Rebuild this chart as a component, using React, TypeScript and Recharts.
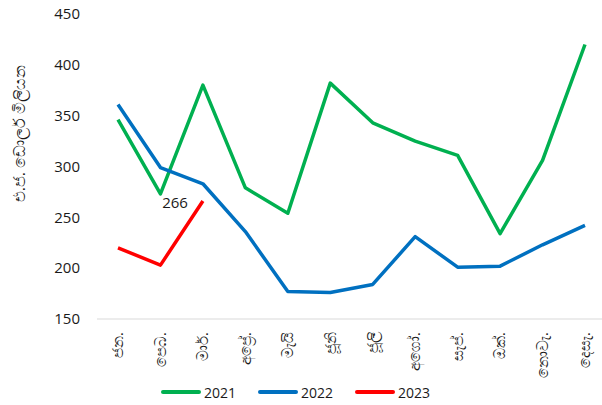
import { LineChart, Line, XAxis, YAxis, Legend, Label } from 'recharts'

const months = ['ජන.', 'පෙබ.', 'මාර්.', 'අප්‍රේ.', 'මැයි', 'ජූනි', 'ජූලි', 'අගෝ.', 'සැප්.', 'ඔක්.', 'නොවැ.', 'දෙසැ.']
const values2021 = [346, 273, 380, 279, 254, 382, 343, 325, 311, 234, 306, 420]
const values2022 = [361, 299, 283, 236, 177, 176, 184, 231, 201, 202, 223, 242]
const values2023 = [220, 203, 266]
const yTicks = [150, 200, 250, 300, 350, 400, 450]
const yLabel = 'එ.ජ. ඩොලර් මිලියන'

const series = [
  { key: 'y2021', name: '2021', color: '#00B050' },
  { key: 'y2022', name: '2022', color: '#0070C0' },
  { key: 'y2023', name: '2023', color: '#FF0000' },
]

const data = months.map((m, i) => ({
  month: m,
  y2021: values2021[i],
  y2022: values2022[i],
  y2023: values2023[i],
}))

const font = "'Open Sans', 'Noto Sans', sans-serif"

function MonthTick({ x, y, payload }: any) {
  return (
    <text
      x={x}
      y={y}
      dy="0.35em"
      transform={`rotate(-90, ${x}, ${y})`}
      textAnchor="end"
      fontSize={15}
      fontFamily={font}
      fill="#1a1a1a"
    >
      {payload.value}
    </text>
  )
}

function YTitle({ viewBox }: any) {
  const x = 19
  const y = viewBox.y + viewBox.height / 2 - 33
  return (
    <text
      x={x}
      y={y}
      dy="0.35em"
      transform={`rotate(-90, ${x}, ${y})`}
      textAnchor="middle"
      fontSize={16}
      fontFamily={font}
      fill="#1a1a1a"
    >
      {yLabel}
    </text>
  )
}

function lastLabel(props: any) {
  if (props.index !== values2023.length - 1) return null
  return (
    <text x={props.x - 15} y={props.y} dy={7} textAnchor="end" fontSize={15} fontFamily={font} fill="#1a1a1a">
      {props.value}
    </text>
  )
}

function LegendBox() {
  return (
    <div style={{ display: 'flex', justifyContent: 'center', alignItems: 'center', height: 26, fontFamily: font, fontSize: 14, color: '#1a1a1a' }}>
      {series.map((s) => (
        <div key={s.key} style={{ display: 'flex', alignItems: 'center', margin: '0 11px' }}>
          <div style={{ width: 40, height: 4, borderRadius: 2, background: s.color, marginRight: 3 }} />
          <span>{s.name}</span>
        </div>
      ))}
    </div>
  )
}

export default function App() {
  return (
    <div style={{ position: 'absolute', left: 0, top: 0, width: 602, height: 405, overflow: 'hidden', background: '#fff' }}>
      <LineChart width={606} height={405} data={data} margin={{ top: 14, right: 0, left: 0, bottom: 0 }}>
        <XAxis
          dataKey="month"
          interval={0}
          padding={{ left: 21, right: 21 }}
          axisLine={{ stroke: '#D9D9D9', strokeWidth: 1 }}
          tickLine={false}
          tickSize={0}
          tickMargin={13}
          height={60}
          tick={<MonthTick />}
        />
        <YAxis
          width={97}
          domain={[150, 450]}
          ticks={yTicks}
          axisLine={false}
          tickLine={false}
          tickSize={0}
          tickMargin={17}
          tick={{ fontSize: 15, fontFamily: font, fill: '#1a1a1a' }}
        >
          <Label content={<YTitle />} />
        </YAxis>
        <Legend
          verticalAlign="bottom"
          content={<LegendBox />}
          wrapperStyle={{ left: 0, width: 591, bottom: 0 }}
        />
        {series.map((s) => (
          <Line
            key={s.key}
            type="linear"
            dataKey={s.key}
            name={s.name}
            stroke={s.color}
            strokeWidth={3.5}
            strokeLinejoin="round"
            dot={false}
            activeDot={false}
            isAnimationActive={false}
            label={s.key === 'y2023' ? lastLabel : undefined}
          />
        ))}
      </LineChart>
    </div>
  )
}
